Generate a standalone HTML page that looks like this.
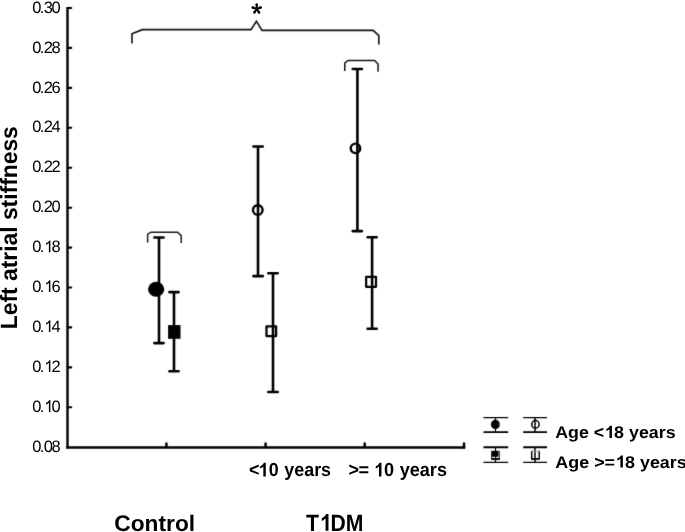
<!DOCTYPE html>
<html><head><meta charset="utf-8"><style>
html,body{margin:0;padding:0;background:#fff;width:685px;height:532px;overflow:hidden}
svg{display:block;will-change:transform}
.wrap{}
text{font-family:"Liberation Sans",sans-serif;fill:#000;text-rendering:geometricPrecision}
.b{font-weight:bold}
.h{fill:transparent}
</style></head><body>
<div class="wrap"><svg width="685" height="532" viewBox="0 0 685 532">
<defs><filter id="sf" x="0" y="0" width="685" height="532" filterUnits="userSpaceOnUse" color-interpolation-filters="sRGB"><feConvolveMatrix order="3" kernelMatrix="0.01 0.08 0.01 0.08 0.64 0.08 0.01 0.08 0.01" edgeMode="duplicate"/></filter></defs>
<g filter="url(#sf)">
<rect width="685" height="532" fill="#fff"/>
<g stroke="#000" fill="none" stroke-linecap="butt">
<!-- y axis -->
<line x1="67.5" y1="7" x2="67.5" y2="448.6" stroke-width="2.4"/>
<!-- y ticks -->
<g stroke-width="2.1" stroke-linecap="round">
<line x1="68" y1="8.0" x2="71.2" y2="8.0"/>
<line x1="68" y1="47.9" x2="71.2" y2="47.9"/>
<line x1="68" y1="87.9" x2="71.2" y2="87.9"/>
<line x1="68" y1="127.8" x2="71.2" y2="127.8"/>
<line x1="68" y1="167.7" x2="71.2" y2="167.7"/>
<line x1="68" y1="207.7" x2="71.2" y2="207.7"/>
<line x1="68" y1="247.6" x2="71.2" y2="247.6"/>
<line x1="68" y1="287.5" x2="71.2" y2="287.5"/>
<line x1="68" y1="327.4" x2="71.2" y2="327.4"/>
<line x1="68" y1="367.4" x2="71.2" y2="367.4"/>
<line x1="68" y1="407.3" x2="71.2" y2="407.3"/>
</g>
<!-- x axis -->
<line x1="66.3" y1="447.55" x2="465.2" y2="447.55" stroke-width="2.5"/>
<g stroke-width="2.5" stroke-linecap="round">
<line x1="166.4" y1="443.4" x2="166.4" y2="447"/>
<line x1="265.6" y1="443.4" x2="265.6" y2="447"/>
<line x1="364.7" y1="443.4" x2="364.7" y2="447"/>
<line x1="464" y1="443.4" x2="464" y2="447.6"/>
</g>
<!-- error bars -->
<g stroke-width="2.6">
<path d="M159 237.5V343.1"/><path d="M154.4 237.5H163.6M154.4 343.1H163.6" stroke-linecap="round"/>
<path d="M174 292.1V371.3"/><path d="M169.4 292.1H178.6M169.4 371.3H178.6" stroke-linecap="round"/>
<path d="M258 146.5V276.1"/><path d="M253.4 146.5H262.8M253.4 276.1H262.8" stroke-linecap="round"/>
<path d="M273 273.2V392"/><path d="M268.3 273.2H277.7M268.3 392H277.7" stroke-linecap="round"/>
<path d="M357.4 69V231.1"/><path d="M352.7 69H361.9M352.7 231.1H361.9" stroke-linecap="round"/>
<path d="M372.1 237.2V328.8"/><path d="M367.6 237.2H376.7M367.6 328.8H376.7" stroke-linecap="round"/>
</g>
<!-- markers -->
<ellipse cx="156.15" cy="289.25" rx="8.1" ry="7.6" fill="#000" stroke="none"/>
<rect x="168.1" y="325.1" width="12.4" height="13.7" fill="#000" stroke="none"/>
<circle cx="257.8" cy="210.05" r="4.8" stroke-width="2.4"/>
<rect x="266.5" y="326.3" width="9.6" height="9.8" stroke-width="2.3" stroke-linejoin="round"/>
<circle cx="355.5" cy="148.35" r="4.75" stroke-width="2.4"/>
<rect x="366.15" y="276.8" width="9.85" height="10.05" stroke-width="2.2" stroke-linejoin="round"/>
<!-- small brackets -->
<path d="M147.65 242.6V234.1L151.1 232.2H177.6L181.2 235.6V243" stroke="#1a1a1a" stroke-width="1.5"/>
<path d="M344.75 71V63.1L348.1 60.5H374.6L378.05 64V71.7" stroke="#111" stroke-width="1.5"/>
<!-- big bracket -->
<path d="M131.95 43.6V33.8L142.3 29.65H251L256.4 21.2L262 30.4H373.2L378.8 35.6V44.5" stroke="#111" stroke-width="1.6"/>
<!-- legend -->
<g stroke="#000">
<path d="M483.5 417.7H508.2M523.2 417.7H547" stroke-width="1.3"/>
<path d="M483.5 432.15H508.2M523.2 432.15H547" stroke-width="1.8"/>
<path d="M483.5 447.27H508.2M523.2 447.27H547" stroke-width="1.9"/>
<path d="M483.5 462.36H508.2M523.2 462.36H547" stroke-width="1.45"/>
<path d="M495.5 417.7V432.15M495.5 447.27V462.36" stroke-width="1.2"/>
<path d="M535 417.7V432.15M535 447.27V462.36" stroke-width="1.5"/>
</g>
<ellipse cx="495.4" cy="424.45" rx="4.5" ry="4.6" fill="#000" stroke="none"/><rect x="498.3" y="423.7" width="1" height="1.5" fill="#888" stroke="none"/>
<rect x="491.2" y="450.8" width="8.6" height="9.2" fill="#000" stroke="none"/>
<rect x="498.2" y="451.3" width="1.2" height="5.6" fill="#7a7a7a" stroke="none"/>
<rect x="492.1" y="456.8" width="2.9" height="1.2" fill="#fff" stroke="none"/>
<rect x="496.1" y="456.8" width="2.9" height="1.2" fill="#fff" stroke="none"/>
<ellipse cx="535.43" cy="424.4" rx="3.7" ry="3.8" stroke-width="1.5"/>
<path d="M531.68 450.8V459M539.2 450.8V459" stroke-width="1.45"/>
<path d="M531.2 451.2H539.7" stroke="#999" stroke-width="0.9"/>
<path d="M531.05 459H539.7" stroke-width="1.8"/>
</g>
</g>
<!-- y labels -->
<g font-size="16.5">
<text x="32.2 39.8 43.75 51.55" y="12.6">0.30</text>
<text x="32.2 39.8 43.75 51.55" y="52.5">0.28</text>
<text x="32.2 39.8 43.75 51.55" y="92.5">0.26</text>
<text x="32.2 39.8 43.75 51.55" y="132.4">0.24</text>
<text x="32.2 39.8 43.75 51.55" y="172.3">0.22</text>
<text x="32.2 39.8 43.75 51.55" y="212.2">0.20</text>
<text x="32.2 39.8 44.2 51.4" y="252.2">0.<tspan class="h">1</tspan>8</text>
<text x="32.2 39.8 44.2 51.4" y="292.1">0.<tspan class="h">1</tspan>6</text>
<text x="32.2 39.8 44.2 51.4" y="332.0">0.<tspan class="h">1</tspan>4</text>
<text x="32.2 39.8 44.2 51.4" y="372.0">0.<tspan class="h">1</tspan>2</text>
<text x="32.2 39.8 44.2 51.4" y="411.9">0.<tspan class="h">1</tspan>0</text>
<text x="32.2 39.8 43.75 51.55" y="451.8">0.08</text>
</g>
<text class="b" font-size="23.5" textLength="203" lengthAdjust="spacingAndGlyphs" transform="translate(16.6 329.2) rotate(-90)">Left atrial stiffness</text>
<g fill="#000" stroke="none"><path d="M257.55 9.10 L257.95 4.60 L255.45 4.60 L255.85 9.10Z M257.03 8.32 L253.19 6.25 L252.21 8.55 L256.37 9.88Z M257.03 9.88 L261.19 8.55 L260.21 6.25 L256.37 8.32Z M256.00 8.61 L253.37 11.69 L255.43 13.11 L257.40 9.59Z M256.00 9.59 L257.97 13.11 L260.03 11.69 L257.40 8.61Z"/><circle cx="256.7" cy="4.6" r="1.25"/><circle cx="252.7" cy="7.4" r="1.25"/><circle cx="260.7" cy="7.4" r="1.25"/><circle cx="254.4" cy="12.4" r="1.25"/><circle cx="259.0" cy="12.4" r="1.25"/></g>
<text id="t1" class="b" font-size="19" x="249.08" y="476.4" textLength="81.99" lengthAdjust="spacingAndGlyphs">&lt;<tspan class="h">1</tspan><tspan dx="-0.7">0</tspan><tspan dx="0.7"> years</tspan></text>
<text id="t2" class="b" font-size="19" x="348.44" y="476.4" textLength="98.54" lengthAdjust="spacingAndGlyphs">&gt;<tspan dx="-0.6">=</tspan><tspan dx="0.6"> </tspan><tspan class="h">1</tspan><tspan dx="-0.8">0</tspan><tspan dx="0.8"> years</tspan></text>
<text id="t3" class="b" font-size="22.5" x="114.30" y="531.2" textLength="80.79" lengthAdjust="spacingAndGlyphs">Control</text>
<text id="t4" class="b" font-size="23.5" x="305.88" y="530.7" textLength="57.56" lengthAdjust="spacingAndGlyphs">T<tspan class="h">1</tspan>DM</text>
<text id="t5" class="b" font-size="16.9" x="555.18" y="437.9" textLength="120.39" lengthAdjust="spacingAndGlyphs">Age &lt;<tspan class="h">1</tspan>8 years</text>
<text id="t6" class="b" font-size="16.9" x="555.38" y="467.5" textLength="131.38" lengthAdjust="spacingAndGlyphs">Age &gt;=<tspan class="h">1</tspan>8 years</text>
<g id="ones">
<path transform="matrix(0.00807 0 0 -0.00806 44.20 252.20)" d="M763 0H583V1147Q518 1085 412.5 1023Q307 961 223 930V1104Q374 1175 487 1276Q600 1377 647 1466H763V0Z"/>
<path transform="matrix(0.00807 0 0 -0.00806 44.20 292.10)" d="M763 0H583V1147Q518 1085 412.5 1023Q307 961 223 930V1104Q374 1175 487 1276Q600 1377 647 1466H763V0Z"/>
<path transform="matrix(0.00807 0 0 -0.00806 44.20 332.00)" d="M763 0H583V1147Q518 1085 412.5 1023Q307 961 223 930V1104Q374 1175 487 1276Q600 1377 647 1466H763V0Z"/>
<path transform="matrix(0.00807 0 0 -0.00806 44.20 372.00)" d="M763 0H583V1147Q518 1085 412.5 1023Q307 961 223 930V1104Q374 1175 487 1276Q600 1377 647 1466H763V0Z"/>
<path transform="matrix(0.00807 0 0 -0.00806 44.20 411.90)" d="M763 0H583V1147Q518 1085 412.5 1023Q307 961 223 930V1104Q374 1175 487 1276Q600 1377 647 1466H763V0Z"/>
<path transform="matrix(0.00873 0 0 -0.00928 257.62 476.40)" d="M936 0H655V1059Q501 915 292 846V1101Q402 1137 531 1237Q660 1338 708 1466H936V0Z"/>
<path transform="matrix(0.00883 0 0 -0.00928 373.19 476.40)" d="M936 0H655V1059Q501 915 292 846V1101Q402 1137 531 1237Q660 1338 708 1466H936V0Z"/>
<path transform="matrix(0.01033 0 0 -0.01147 318.80 530.70)" d="M936 0H655V1059Q501 915 292 846V1101Q402 1137 531 1237Q660 1338 708 1466H936V0Z"/>
<path transform="matrix(0.00871 0 0 -0.00825 603.80 437.90)" d="M936 0H655V1059Q501 915 292 846V1101Q402 1137 531 1237Q660 1338 708 1466H936V0Z"/>
<path transform="matrix(0.00875 0 0 -0.00825 614.68 467.50)" d="M936 0H655V1059Q501 915 292 846V1101Q402 1137 531 1237Q660 1338 708 1466H936V0Z"/>
</g>
</svg></div>
</body></html>
